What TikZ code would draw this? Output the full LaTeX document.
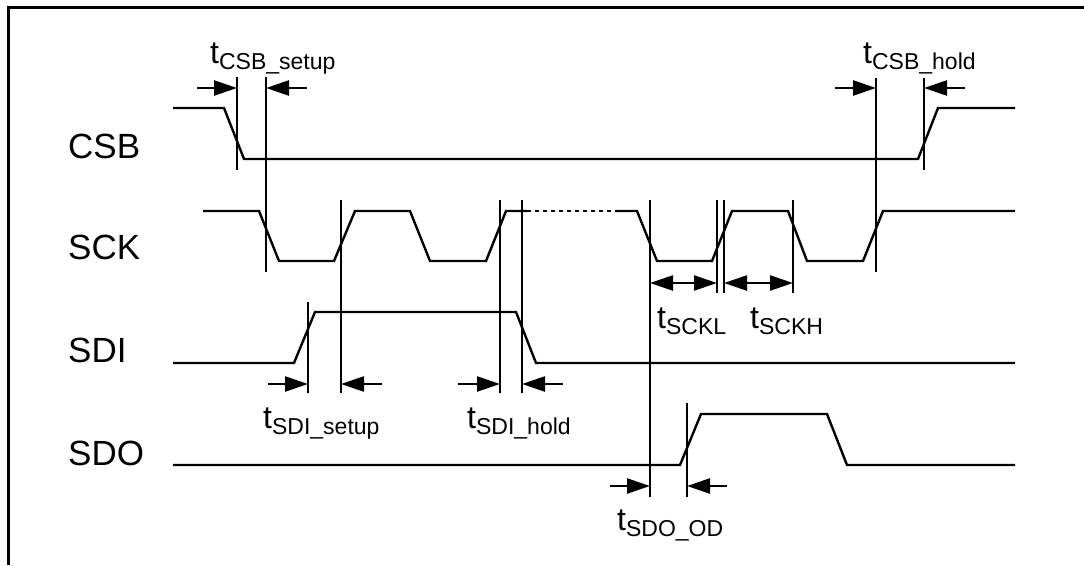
\documentclass[tikz,border=0pt]{standalone}
\usepackage{fontspec}
\setmainfont{Liberation Sans}
\usetikzlibrary{arrows.meta}
\newcommand{\tlab}[1]{{\fontsize{32}{32}\selectfont t}\raisebox{-6pt}{\fontsize{23}{23}\selectfont #1}}
\begin{document}
\begin{tikzpicture}[x=1pt,y=-1pt,
  sig/.style={line width=2.4pt, line join=miter},
  tick/.style={line width=2.4pt},
  frame/.style={line width=3pt},
  dimr/.style={line width=2.4pt, -{Triangle[length=23pt,width=15pt]}},
  dimb/.style={line width=2.4pt, {Triangle[length=23pt,width=15pt]}-{Triangle[length=23pt,width=15pt]}},
  sname/.style={anchor=base west, inner sep=0pt, font=\fontsize{35}{35}\selectfont},
  tname/.style={anchor=base west, inner sep=0pt}]
\useasboundingbox (0,0) rectangle (1084,565);
% frame
\draw[frame] (8.5,565) -- (8.5,7) -- (1084,7);
% signal names
\node[sname] (ncsb) at (68,158) {CSB};
\node[sname] (nsck) at (68,259) {SCK};
\node[sname] (nsdi) at (68,362) {SDI};
\node[sname] (nsdo) at (68,465) {SDO};
% waveforms
\draw[sig] (173,108) -- (224,108) -- (244,159) -- (918,159) -- (938,108) -- (1015,108);
\draw[sig] (203,211) -- (259,211) -- (279,261) -- (334,261) -- (355,211) -- (410,211) -- (430,261) -- (486,261) -- (506,211) -- (527,211);
\draw[line width=2.4pt, dash pattern=on 4pt off 4pt] (527,211) -- (615,211);
\draw[sig] (615,211) -- (637,211) -- (657,261) -- (712,261) -- (732,211) -- (788,211) -- (807,261) -- (863,261) -- (883,211) -- (1015,211);
\draw[sig] (173,363) -- (294,363) -- (315,312) -- (516,312) -- (536,363) -- (1015,363);
\draw[sig] (173,465) -- (680,465) -- (701,414) -- (827,414) -- (847,465) -- (1015,465);
% vertical reference lines
\coordinate (v1t) at (237,77);  \coordinate (v1b) at (237,170);
\coordinate (v2t) at (266,77);  \coordinate (v2b) at (266,272);
\coordinate (v3t) at (876,78);  \coordinate (v3b) at (876,272);
\coordinate (v4t) at (924,78);  \coordinate (v4b) at (924,170);
\coordinate (v5t) at (341,200); \coordinate (v5b) at (341,393);
\coordinate (v6t) at (308,302); \coordinate (v6b) at (308,393);
\coordinate (v7t) at (500,200); \coordinate (v7b) at (500,393);
\coordinate (v8t) at (522,200); \coordinate (v8b) at (522,393);
\coordinate (v9t) at (650,200); \coordinate (v9b) at (650,497);
\coordinate (v10t) at (717,200); \coordinate (v10b) at (717,293);
\coordinate (v11t) at (724,200); \coordinate (v11b) at (724,293);
\coordinate (v12t) at (793,200); \coordinate (v12b) at (793,293);
\coordinate (v13t) at (687,403); \coordinate (v13b) at (687,497);
\foreach \i in {1,...,13} {\draw[tick] (v\i t) -- (v\i b);}
% dimension arrows
\coordinate (a1) at (197,88); \coordinate (a2) at (307,88);
\draw[dimr] (a1) -- (237,88);
\draw[dimr] (a2) -- (266,88);
\coordinate (a3) at (835,88); \coordinate (a4) at (965,88);
\draw[dimr] (a3) -- (876,88);
\draw[dimr] (a4) -- (924,88);
\draw[dimb] (650,283) -- (717,283);
\draw[dimb] (724,283) -- (793,283);
\coordinate (a5) at (268,384); \coordinate (a6) at (382,384);
\draw[dimr] (a5) -- (308,384);
\draw[dimr] (a6) -- (341,384);
\coordinate (a7) at (458,384); \coordinate (a8) at (563,384);
\draw[dimr] (a7) -- (500,384);
\draw[dimr] (a8) -- (522,384);
\coordinate (a9) at (610,486); \coordinate (a10) at (727,486);
\draw[dimr] (a9) -- (650,486);
\draw[dimr] (a10) -- (687,486);
% timing labels
\node[tname] (lcs) at (210,63) {\tlab{CSB\_setup}};
\node[tname] (lch) at (863,63) {\tlab{CSB\_hold}};
\node[tname] (lkl) at (657,328) {\tlab{SCKL}};
\node[tname] (lkh) at (750,328) {\tlab{SCKH}};
\node[tname] (lds) at (263,428) {\tlab{SDI\_setup}};
\node[tname] (ldh) at (467,428) {\tlab{SDI\_hold}};
\node[tname] (ldo) at (617,530) {\tlab{SDO\_OD}};
\end{tikzpicture}
\end{document}
